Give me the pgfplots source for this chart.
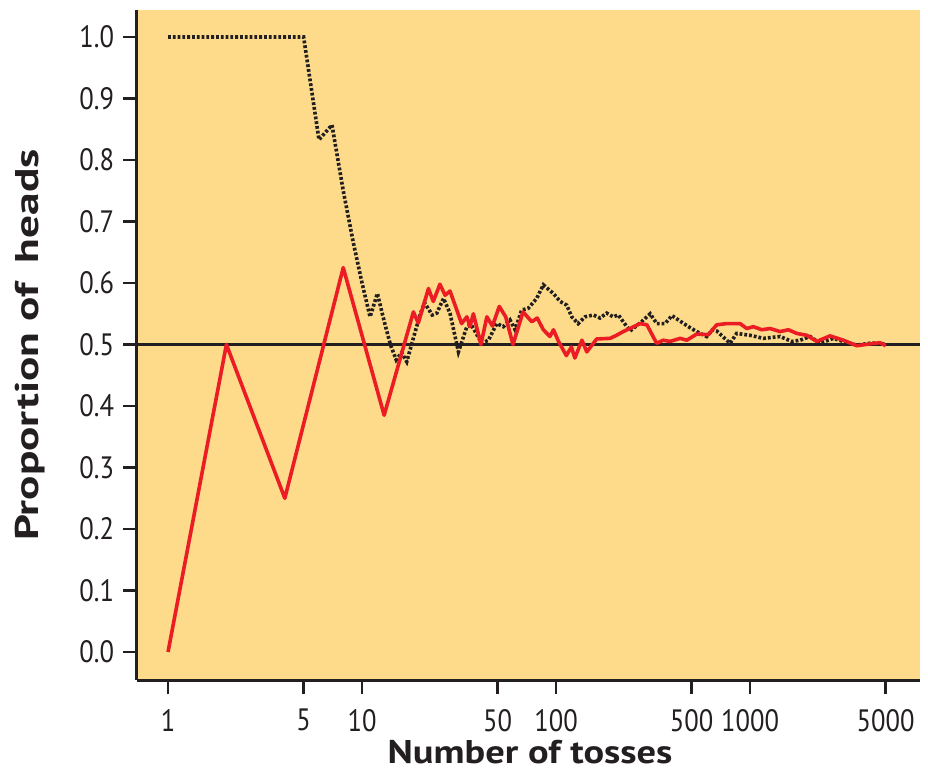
\documentclass[border=0pt]{standalone}
\usepackage{fontspec}
\setmainfont{PT Sans}
\newfontfamily\tickfont[FakeStretch=0.86]{PT Sans}
\newfontfamily\labelfont[FakeStretch=1.17]{PT Sans}
\newfontfamily\ylabelfont[FakeStretch=1.38]{PT Sans}
\usepackage{pgfplots}
\pgfplotsset{compat=1.18}
\definecolor{bgfill}{RGB}{253,219,139}
\definecolor{redline}{RGB}{236,28,36}
\definecolor{darkline}{RGB}{35,31,32}

\begin{document}
\begin{tikzpicture}
\path[use as bounding box] (-68.5bp,-46.5bp) rectangle (395.5bp,340bp);
\begin{axis}[
  at={(0,0)}, anchor=south west,
  scale only axis, width=391.5bp, height=335bp,
  xmode=log, xmin=0.692, xmax=7516, ymin=-0.0455, ymax=1.0439,
  axis x line*=bottom, axis y line*=left,
  axis line style={-, line width=1.5bp, darkline},
  axis background/.style={fill=bgfill},
  xtick={1,5,10,50,100,500,1000,5000},
  xticklabels={1,5,10,50,100,500,1000,5000},
  xminorticks=false, yminorticks=false,
  ytick={0,0.1,0.2,0.3,0.4,0.5,0.6,0.7,0.8,0.9,1.0},
  yticklabels={0.0,0.1,0.2,0.3,0.4,0.5,0.6,0.7,0.8,0.9,1.0},
  tick align=outside, major tick length=7bp,
  tick style={line width=1.2bp, darkline},
  ticklabel style={font=\tickfont\fontsize{15.5}{18}\selectfont, text=darkline},
  xticklabel style={yshift=-4bp},
  yticklabel style={xshift=-1bp},
  xlabel={Number of tosses},
  ylabel={Proportion of\hspace{0.6em}heads},
  xlabel style={font=\labelfont\fontsize{16.5}{20}\selectfont\bfseries, text=darkline,
    at={(axis description cs:0.502,-0.124)}, anchor=base},
  ylabel style={font=\ylabelfont\fontsize{16.5}{20}\selectfont\bfseries, text=darkline,
    at={(axis description cs:-0.1367,0.5)}, anchor=center, rotate=0},
  clip=true,
]
\addplot[darkline, line width=1.4bp] coordinates {(0.692,0.5) (7516,0.5)};

\addplot[darkline, line width=1.8bp, dash pattern=on 1.4bp off 1.0bp] coordinates {
(1,1) (2,1) (3,1) (4,1) (5,1) (6,0.833) (7,0.857) (8,0.75) (9,0.667) (10,0.6)
(11,0.545) (12,0.583) (13,0.538) (14,0.5) (15,0.475) (16,0.487) (17,0.472)
(18,0.5) (19,0.526) (20,0.55) (21,0.568) (23,0.548) (24.3,0.551) (26.3,0.575)
(28.4,0.551) (31.4,0.488) (34.7,0.529) (36.6,0.532) (41.4,0.502) (44.8,0.507)
(49.5,0.534) (53.5,0.529) (57.9,0.540) (61.5,0.524) (66.5,0.556) (72,0.559)
(79.5,0.575) (86,0.597) (96.8,0.583) (105,0.570) (113.5,0.564) (120.5,0.545)
(130,0.534) (141,0.545) (156,0.548) (168.5,0.543) (182.5,0.551) (197,0.545)
(209.5,0.548) (222,0.537) (240.6,0.522) (276,0.537) (305.5,0.550) (330.5,0.534)
(364.6,0.534) (396,0.547) (436,0.538) (481,0.529) (531,0.521) (598,0.513)
(640,0.524) (673,0.522) (789,0.502) (853,0.518) (1000,0.515) (1172,0.510)
(1429,0.513) (1641,0.505) (1811,0.507) (2038,0.513) (2296,0.502) (2687,0.510)
(3027,0.505) (3550,0.499) (4154,0.502) (4775,0.502) (5000,0.499)
};

\addplot[redline, line width=1.8bp, line join=round] coordinates {
(1,0) (2,0.5) (4,0.25) (8,0.625) (13,0.385) (18.4,0.553) (19.5,0.535) (22,0.591)
(23.3,0.570) (25.2,0.598) (26.8,0.580) (28.4,0.587) (30.8,0.556) (32.6,0.534)
(34.7,0.545) (36,0.529) (37.5,0.55) (41,0.50) (44,0.545) (47,0.53) (51,0.562)
(55,0.545) (60,0.50) (67.6,0.553) (75,0.537) (80,0.543) (86,0.524) (93,0.513)
(97,0.524) (103,0.505) (113,0.482) (120,0.496) (125,0.478) (136,0.507) (144,0.488)
(162,0.509) (190,0.510) (205,0.515) (222,0.521) (240,0.526) (271,0.534) (294,0.532)
(330,0.502) (357,0.507) (387,0.505) (436,0.510) (472,0.507) (531,0.517) (610,0.516)
(673,0.532) (758,0.534) (888,0.534) (962,0.526) (1040,0.529) (1149,0.524)
(1268,0.526) (1429,0.521) (1575,0.524) (1741,0.518) (1960,0.515) (2207,0.505)
(2584,0.514) (3027,0.507) (3550,0.498) (4154,0.501) (4677,0.503) (5000,0.498)
};
\end{axis}
\end{tikzpicture}
\end{document}
